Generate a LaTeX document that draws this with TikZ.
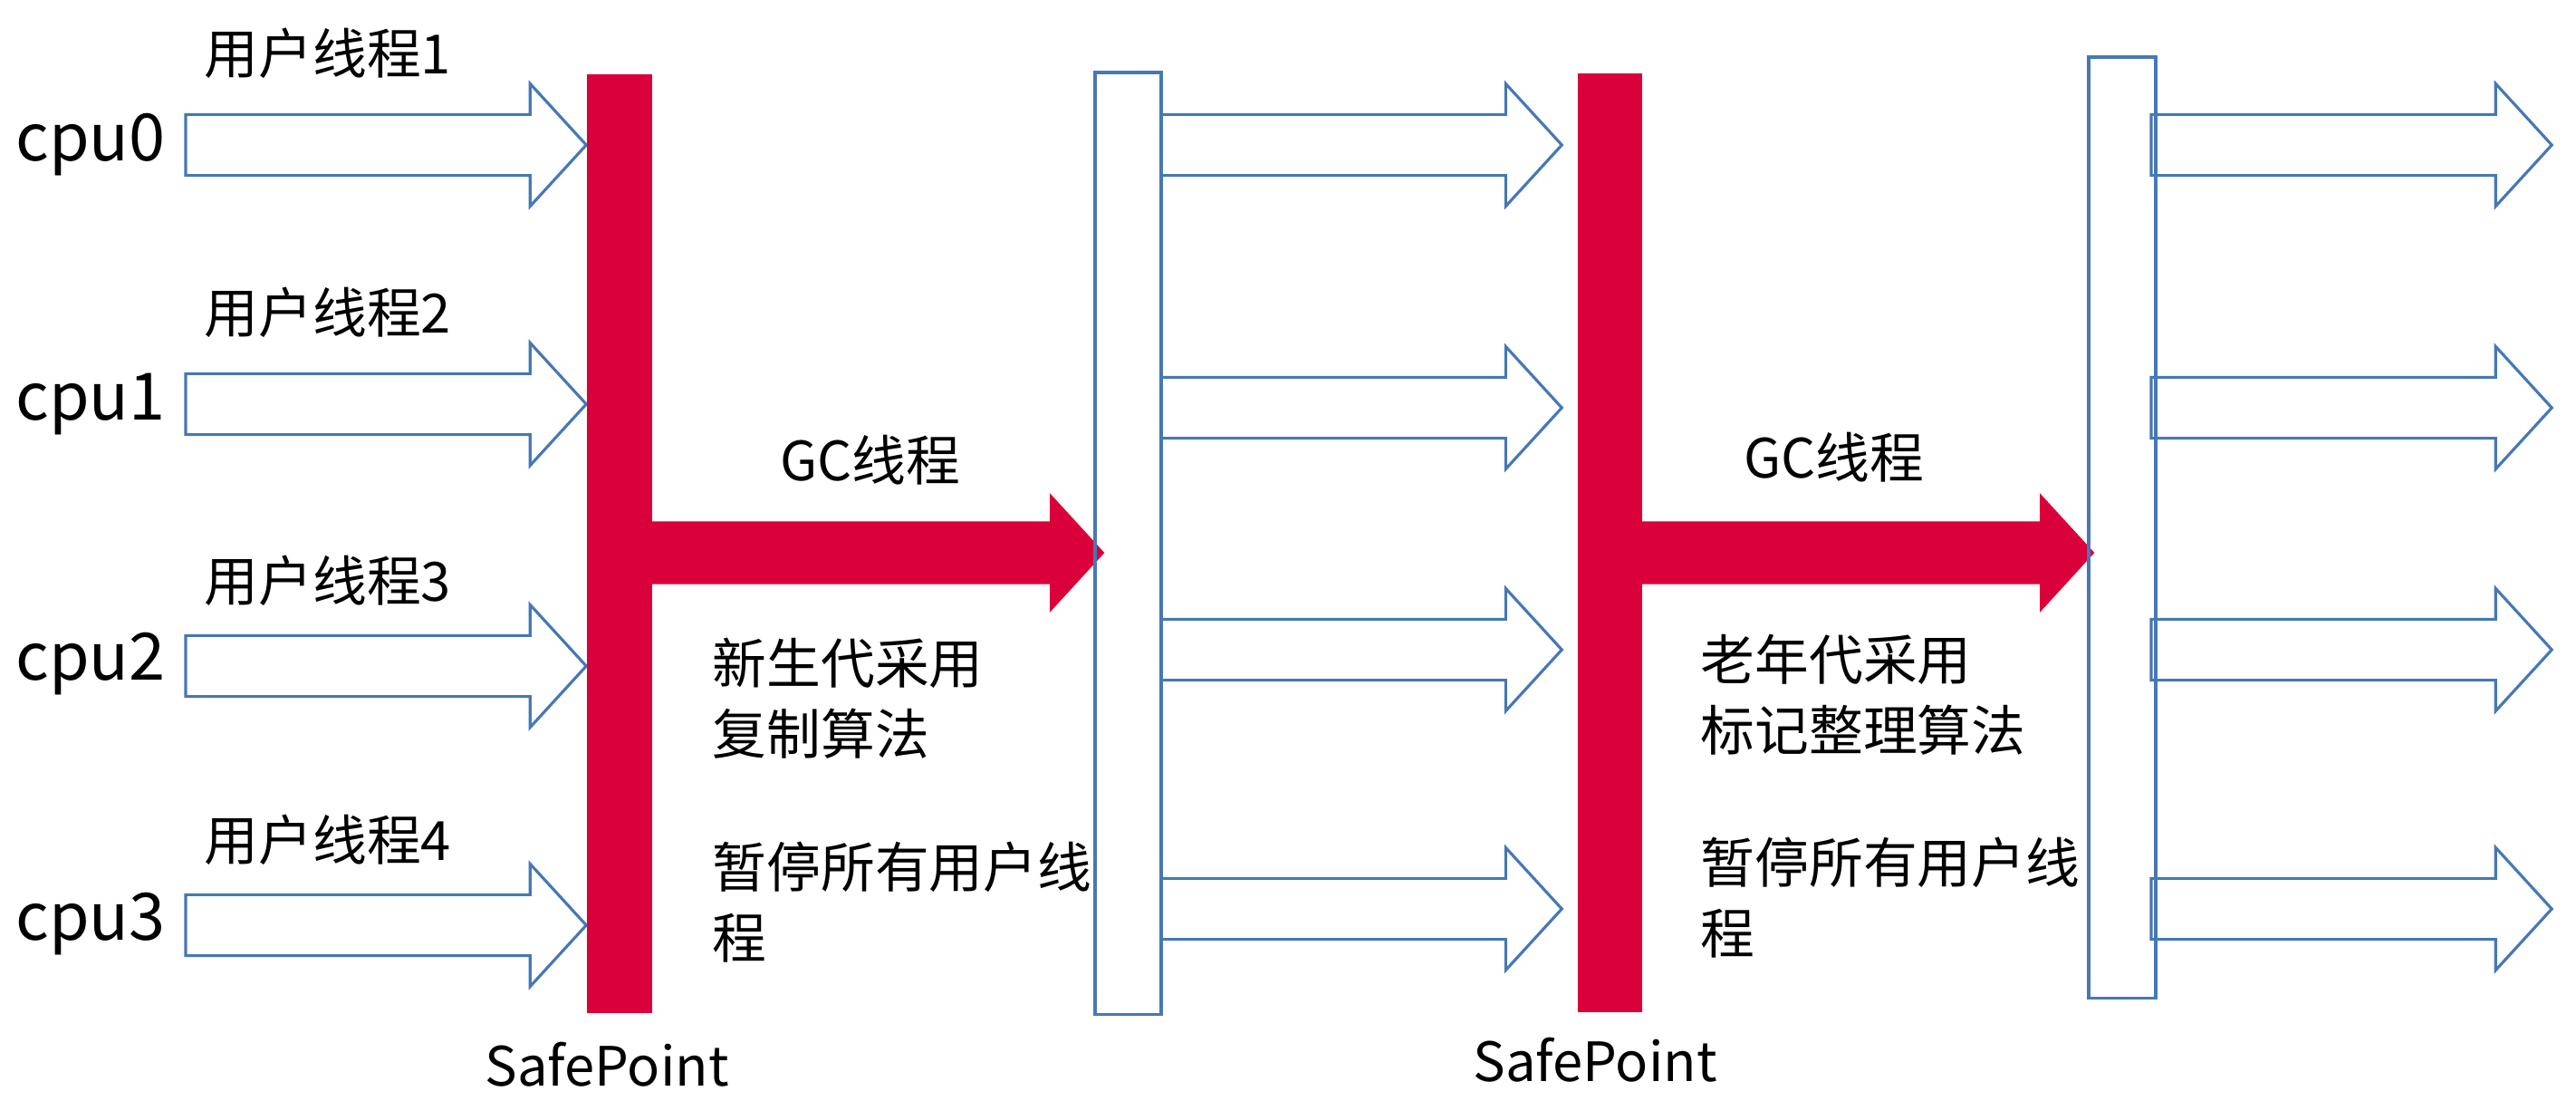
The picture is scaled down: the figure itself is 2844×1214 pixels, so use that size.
\documentclass[tikz,border=0pt]{standalone}
\usepackage{fontspec}
\setmainfont{Noto Sans CJK SC}
\usetikzlibrary{shapes.arrows}
\definecolor{spred}{RGB}{218,0,58}
\definecolor{thblue}{RGB}{70,120,180}

\begin{document}
\begin{tikzpicture}[x=0.01cm, y=-0.01cm,
    txt/.style={inner sep=0pt, font=\fontsize{17}{22.2}\selectfont},
    cpulbl/.style={inner sep=0pt, font=\fontsize{20.5}{24}\selectfont},
    thread/.style={single arrow, draw=thblue, line width=0.9pt, inner xsep=0pt, inner ysep=0.32cm, outer sep=0pt,
        single arrow head extend=0.34cm, single arrow tip angle=95, minimum height=4.42cm, anchor=tail},
    gcarrow/.style={single arrow, fill=spred, inner xsep=0pt, inner ysep=0.34cm, outer sep=0pt,
        single arrow head extend=0.31cm, single arrow tip angle=95, minimum height=4.99cm, anchor=tail},
    safebar/.style={rectangle, fill=spred, inner sep=0pt, outer sep=0pt, minimum width=0.72cm, minimum height=10.35cm, anchor=north west},
    resume/.style={rectangle, draw=thblue, line width=0.9pt, inner sep=0pt, outer sep=0pt, minimum width=0.73cm, minimum height=10.39cm, anchor=north west}]
    \useasboundingbox (0,0) rectangle (2844,1214);

    % cpus and user threads
    \node[cpulbl] (cpu0) at (100,160) {cpu0};
    \node[cpulbl] (cpu1) at (100,446) {cpu1};
    \node[cpulbl] (cpu2) at (100,733) {cpu2};
    \node[cpulbl] (cpu3) at (100,1020) {cpu3};
    \node[txt, anchor=west] (t1) at (225,59) {用户线程1};
    \node[txt, anchor=west] (t2) at (225,345) {用户线程2};
    \node[txt, anchor=west] (t3) at (225,641) {用户线程3};
    \node[txt, anchor=west] (t4) at (225,927) {用户线程4};
    \node[thread] (a0) at (205,160) {};
    \node[thread] (a1) at (205,446) {};
    \node[thread] (a2) at (205,735) {};
    \node[thread] (a3) at (205,1021) {};

    % first safepoint, young gc
    \node[safebar] (sp1) at (648,82) {};
    \node[gcarrow] (gc1) at (sp1.east |- 0,610) {};
    \node[txt] (gct1) at (961,508) {GC线程};
    \node[txt, anchor=west, align=left] (young) at (786,771) {新生代采用\\复制算法};
    \node[txt, anchor=west, align=left] (stop1) at (786,996) {暂停所有用户线\\程};
    \node[txt] (spl1) at (670,1175) {SafePoint};
    \node[resume] (r1) at (1209,80) {};
    \node[thread] (b0) at (r1.east |- 0,160) {};
    \node[thread] (b1) at (r1.east |- 0,450) {};
    \node[thread] (b2) at (r1.east |- 0,717) {};
    \node[thread] (b3) at (r1.east |- 0,1003) {};

    % second safepoint, old gc
    \node[safebar, minimum width=0.71cm] (sp2) at (1742,81) {};
    \node[gcarrow] (gc2) at (sp2.east |- 0,610) {};
    \node[txt] (gct2) at (2025,505) {GC线程};
    \node[txt, anchor=west, align=left] (old) at (1877,767) {老年代采用\\标记整理算法};
    \node[txt, anchor=west, align=left] (stop2) at (1877,991) {暂停所有用户线\\程};
    \node[txt] (spl2) at (1761,1170) {SafePoint};
    \node[resume, minimum width=0.74cm, minimum height=10.38cm] (r2) at (2306,63) {};
    \node[thread] (c0) at (2375,160) {};
    \node[thread] (c1) at (2375,450) {};
    \node[thread] (c2) at (2375,717) {};
    \node[thread] (c3) at (2375,1003) {};
\end{tikzpicture}
\end{document}
